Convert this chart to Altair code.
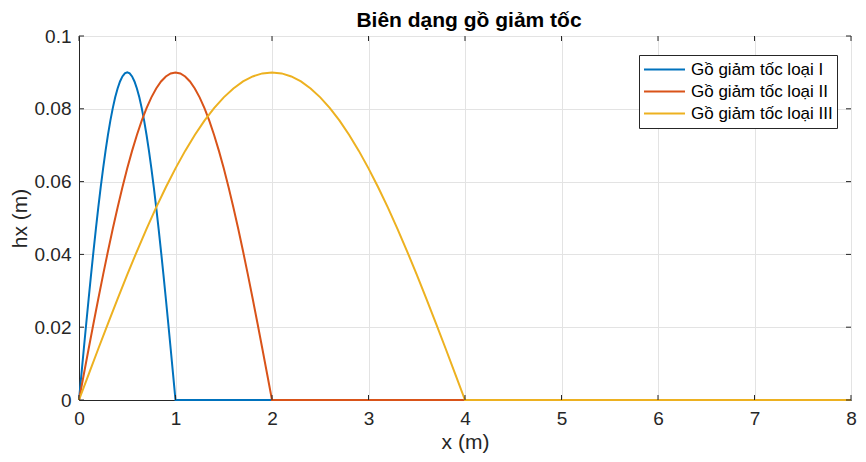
import altair as alt
import pandas as pd

title_text = "Biên dạng gồ giảm tốc"
names = ["Gồ giảm tốc loại I", "Gồ giảm tốc loại II", "Gồ giảm tốc loại III"]
colors = ["#0072BD", "#D95319", "#EDB120"]

# hump height profile (same shape for all three bumps, peak 0.09 m), then flat zero
hump = [0, 0.007061, 0.014079, 0.02101, 0.027812, 0.034441, 0.040859, 0.047025, 0.052901, 0.05845,
        0.06364, 0.068437, 0.072812, 0.076738, 0.080191, 0.083149, 0.085595, 0.087513, 0.088892, 0.089723,
        0.09,
        0.089723, 0.088892, 0.087513, 0.085595, 0.083149, 0.080191, 0.076738, 0.072812, 0.068437, 0.06364,
        0.05845, 0.052901, 0.047025, 0.040859, 0.034441, 0.027812, 0.02101, 0.014079, 0.007061, 0,
        0]

x1 = [0, 0.025, 0.05, 0.075, 0.1, 0.125, 0.15, 0.175, 0.2, 0.225, 0.25, 0.275, 0.3, 0.325, 0.35, 0.375,
      0.4, 0.425, 0.45, 0.475, 0.5, 0.525, 0.55, 0.575, 0.6, 0.625, 0.65, 0.675, 0.7, 0.725, 0.75, 0.775,
      0.8, 0.825, 0.85, 0.875, 0.9, 0.925, 0.95, 0.975, 1.0, 2.0]
x2 = [0, 0.05, 0.1, 0.15, 0.2, 0.25, 0.3, 0.35, 0.4, 0.45, 0.5, 0.55, 0.6, 0.65, 0.7, 0.75,
      0.8, 0.85, 0.9, 0.95, 1.0, 1.05, 1.1, 1.15, 1.2, 1.25, 1.3, 1.35, 1.4, 1.45, 1.5, 1.55,
      1.6, 1.65, 1.7, 1.75, 1.8, 1.85, 1.9, 1.95, 2.0, 4.0]
x3 = [0, 0.1, 0.2, 0.3, 0.4, 0.5, 0.6, 0.7, 0.8, 0.9, 1.0, 1.1, 1.2, 1.3, 1.4, 1.5,
      1.6, 1.7, 1.8, 1.9, 2.0, 2.1, 2.2, 2.3, 2.4, 2.5, 2.6, 2.7, 2.8, 2.9, 3.0, 3.1,
      3.2, 3.3, 3.4, 3.5, 3.6, 3.7, 3.8, 3.9, 4.0, 8.0]

x_ticks = [0, 1, 2, 3, 4, 5, 6, 7, 8]
y_ticks = [0, 0.02, 0.04, 0.06, 0.08, 0.1]

rows = []
for i, xs in enumerate([x1, x2, x3]):
    for j, (a, b) in enumerate(zip(xs, hump)):
        rows.append({"x": a, "h": b, "series": names[i], "order": j, "s": i})
df = pd.DataFrame(rows)

W, H = 772, 364
FONT = "Liberation Sans"
DARK = "#262626"

xscale = alt.Scale(domain=[0, 8], nice=False, zero=False)
yscale = alt.Scale(domain=[0, 0.1], nice=False, zero=False)

lines = alt.Chart(df).mark_line(strokeWidth=2, interpolate="linear").encode(
    x=alt.X("x:Q", scale=xscale,
            axis=alt.Axis(values=x_ticks, title="x (m)", grid=True, ticks=False,
                          labelFlush=False, labelOverlap=False,
                          labelPadding=9, titlePadding=3, format="~g")),
    y=alt.Y("h:Q", scale=yscale,
            axis=alt.Axis(values=y_ticks, title="hx (m)", grid=True, ticks=False,
                          labelFlush=False, labelOverlap=False,
                          labelPadding=8, titlePadding=4, format="~g")),
    color=alt.Color("series:N",
                    scale=alt.Scale(domain=names, range=colors),
                    legend=alt.Legend(title=None, orient="none", legendX=W - 212, legendY=19,
                                      symbolType="stroke", symbolSize=1681,
                                      symbolStrokeWidth=2, labelFontSize=17,
                                      labelOffset=5, rowPadding=1, padding=4,
                                      clipHeight=21,
                                      fillColor="white", strokeColor=DARK,
                                      labelColor="#000000", labelFont=FONT)),
    detail="s:N",
    order="order:Q",
)

xt = pd.DataFrame({"t": x_ticks})
yt = pd.DataFrame({"t": y_ticks})

xtick_b = alt.Chart(xt).mark_rule(color=DARK, strokeWidth=1).encode(
    x=alt.X("t:Q", scale=xscale), y=alt.value(H), y2=alt.value(H - 5))
xtick_t = alt.Chart(xt).mark_rule(color=DARK, strokeWidth=1).encode(
    x=alt.X("t:Q", scale=xscale), y=alt.value(0), y2=alt.value(5))
ytick_l = alt.Chart(yt).mark_rule(color=DARK, strokeWidth=1).encode(
    y=alt.Y("t:Q", scale=yscale), x=alt.value(0), x2=alt.value(5))
ytick_r = alt.Chart(yt).mark_rule(color=DARK, strokeWidth=1).encode(
    y=alt.Y("t:Q", scale=yscale), x=alt.value(W), x2=alt.value(W - 5))

title = alt.Chart(pd.DataFrame({"t": [title_text]})).mark_text(
    font=FONT, fontSize=21, fontWeight="bold", color="#000000",
    align="center", baseline="alphabetic"
).encode(text="t:N", x=alt.value(W / 2 + 4), y=alt.value(-9))

chart = alt.layer(lines, xtick_b, xtick_t, ytick_l, ytick_r, title).properties(
    width=W, height=H,
    background="white",
    autosize=alt.AutoSizeParams(type="none"),
    padding={"left": 71, "top": 28, "right": 7, "bottom": 54},
).configure_view(
    stroke=DARK, strokeWidth=1
).configure_axis(
    labelFont=FONT, titleFont=FONT, labelFontSize=19, titleFontSize=21,
    labelColor=DARK, titleColor=DARK, titleFontWeight="normal",
    domainColor=DARK, gridColor="#e3e3e3", gridWidth=1,
)

chart.save("out.html", embed_options={"renderer": "svg", "actions": False})
